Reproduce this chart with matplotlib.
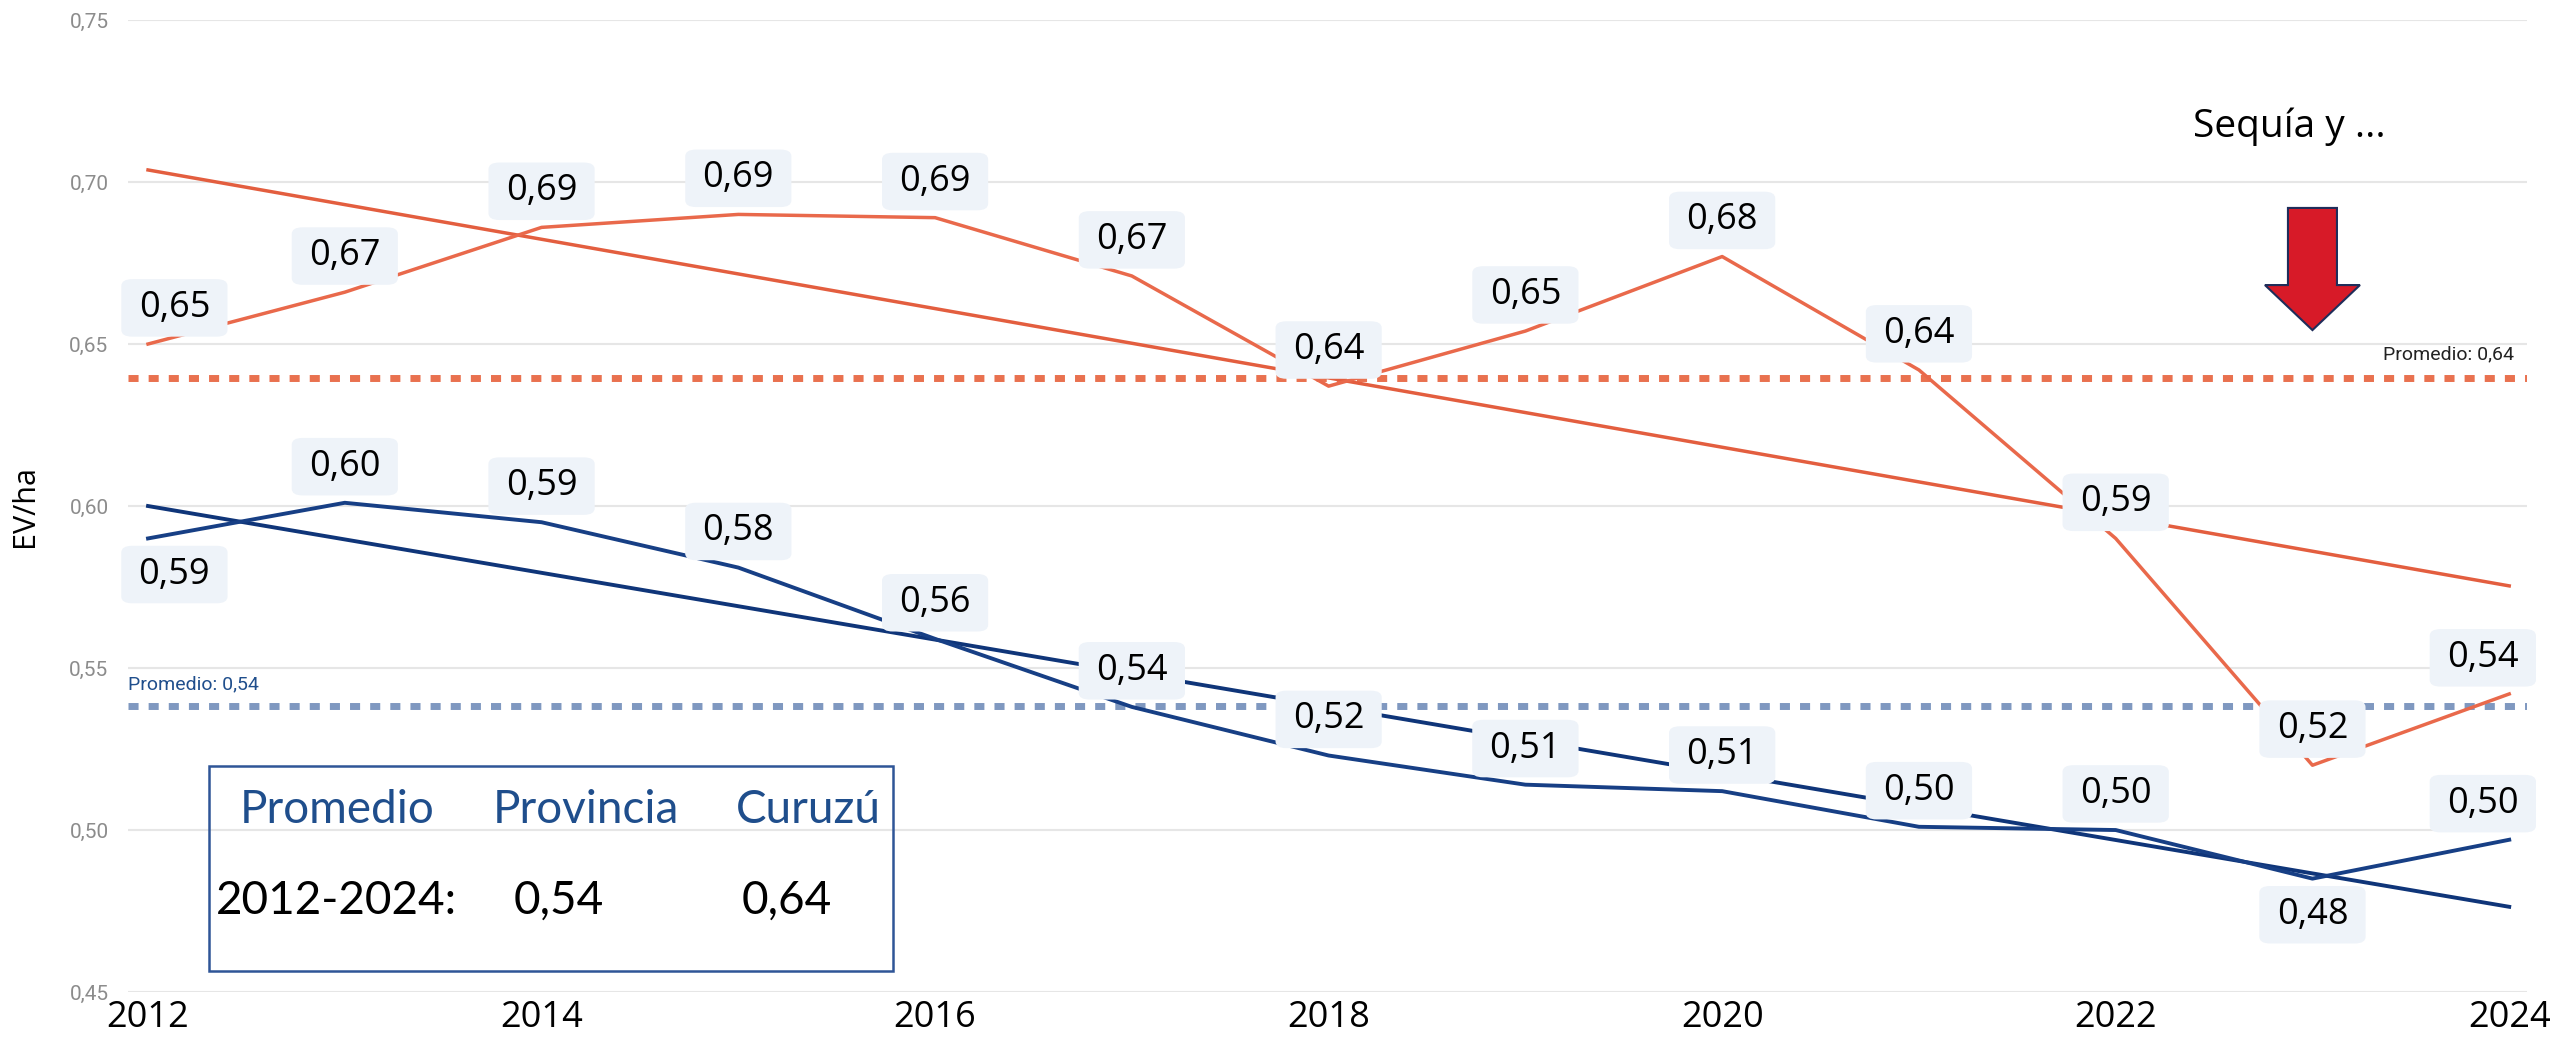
import numpy as np
import matplotlib.pyplot as plt
from matplotlib.patches import FancyArrow, Rectangle

# datos (EV/ha por año)
years = np.arange(2012, 2025)
curuzu = [0.650, 0.666, 0.686, 0.690, 0.689, 0.671, 0.637, 0.654, 0.677, 0.642, 0.590, 0.520, 0.542]
provincia = [0.590, 0.601, 0.595, 0.581, 0.559, 0.538, 0.523, 0.514, 0.512, 0.501, 0.500, 0.485, 0.497]
yticks = [0.45, 0.50, 0.55, 0.60, 0.65, 0.70, 0.75]
xticks = [2012, 2014, 2016, 2018, 2020, 2022, 2024]

# lado de la etiqueta (1 arriba, -1 abajo)
lado_prov = [-1, 1, 1, 1, 1, 1, 1, 1, 1, 1, 1, -1, 1]

naranja = '#e9694b'
naranja_tend = '#e35e3f'
azul = '#173f85'
azul_tend = '#0f3579'
azul_prom = '#7f98c0'
naranja_prom = '#e9714f'
caja = '#eef3f9'

fig = plt.figure(figsize=(25.54, 10.48), dpi=100)
ax = fig.add_axes([0.0501, 0.0534, 0.9393, 0.9275])

curuzu = np.array(curuzu)
provincia = np.array(provincia)
prom_c = curuzu.mean()
prom_p = provincia.mean()

# líneas de tendencia
tc = np.polyval(np.polyfit(years, curuzu, 1), years)
tp = np.polyval(np.polyfit(years, provincia, 1), years)

ax.axhline(prom_c, color=naranja_prom, lw=5, ls=(0, (1.45, 1.45)), zorder=2)
ax.axhline(prom_p, color=azul_prom, lw=5, ls=(0, (1.45, 1.45)), zorder=2)

ax.plot(years, tc, color=naranja_tend, lw=2.5, zorder=3)
ax.plot(years, curuzu, color=naranja, lw=2.5, zorder=3)
ax.plot(years, tp, color=azul_tend, lw=2.8, zorder=3)
ax.plot(years, provincia, color=azul, lw=2.8, zorder=3)

def etiqueta(x, y, lado, i):
    dx = 0
    if i == 0:
        dx = 19
    elif i == len(years) - 1:
        dx = -19
    ax.annotate(f'{y:.2f}'.replace('.', ','), (x, y), xytext=(dx, 26 * lado),
                textcoords='offset points', ha='center', va='center',
                fontsize=26, family=['Open Sans', 'DejaVu Sans'], color='black',
                bbox=dict(boxstyle='round,pad=0.48,rounding_size=0.3', fc=caja, ec='none',
                          mutation_aspect=0.62),
                zorder=5)

for i, (x, y) in enumerate(zip(years, curuzu)):
    etiqueta(x, y, 1, i)
for i, (x, y) in enumerate(zip(years, provincia)):
    etiqueta(x, y, lado_prov[i], i)

# textos de promedio
ax.annotate(f'Promedio: {prom_c:.2f}'.replace('.', ','), (1.0, prom_c),
            xycoords=('axes fraction', 'data'), xytext=(-9, 17), textcoords='offset points',
            ha='right', va='center', fontsize=14, family='Roboto', color='#222222')
ax.annotate(f'Promedio: {prom_p:.2f}'.replace('.', ','), (0.0, prom_p),
            xycoords=('axes fraction', 'data'), xytext=(0, 16), textcoords='offset points',
            ha='left', va='center', fontsize=14, family='Roboto', color='#1f4e8c')

# flecha de sequía
ax.add_patch(FancyArrow(2023.0, 0.692, 0, -0.0377, width=0.249, head_width=0.483,
                        head_length=0.0139, length_includes_head=True,
                        fc='#d71a28', ec='#1f2d5a', lw=1.5, zorder=4))
ax.text(0.9008, 0.8899, 'Sequía y ...', transform=ax.transAxes, ha='center', va='center',
        fontsize=28, family=['Open Sans', 'DejaVu Sans'], color='black')

# cuadro de promedios
ax.add_patch(Rectangle((0.0336, 0.0217), 0.2852, 0.2112, transform=ax.transAxes,
                       fill=False, ec='#2f5597', lw=1.8, zorder=4))
leg = dict(transform=ax.transAxes, ha='center', va='center', fontsize=33,
           family=['Lato', 'DejaVu Sans'])
ax.text(0.0871, 0.1872, 'Promedio', color='#1f4e8c', **leg)
ax.text(0.1909, 0.1872, 'Provincia', color='#1f4e8c', **leg)
ax.text(0.2835, 0.1872, 'Curuzú', color='#1f4e8c', **leg)
ax.text(0.0867, 0.0936, '2012-2024:', color='black', **leg)
ax.text(0.1797, 0.0936, f'{prom_p:.2f}'.replace('.', ','), color='black', **leg)
ax.text(0.2747, 0.0936, f'{prom_c:.2f}'.replace('.', ','), color='black', **leg)

# ejes
ax.set_xlim(2011.898, 2024.09)
ax.set_ylim(0.45, 0.75)
ax.set_yticks(yticks)
ax.set_yticklabels([f'{v:.2f}'.replace('.', ',') for v in yticks],
                   fontsize=15, family='Roboto', color='#8c8c8c')
ax.set_xticks(xticks)
ax.set_xticklabels([str(v) for v in xticks], fontsize=26,
                   family=['Open Sans', 'DejaVu Sans'], color='black')
ax.tick_params(axis='y', length=0, pad=14)
ax.tick_params(axis='x', length=0, pad=6)
ax.grid(axis='y', color='#e6e6e6', lw=1.5, zorder=0)
ax.set_axisbelow(True)
for s in ax.spines.values():
    s.set_visible(False)
ax.set_ylabel('EV/ha', fontsize=22, family=['Open Sans', 'DejaVu Sans'])
ax.yaxis.set_label_coords(-0.0367, 0.5)

fig.savefig('out.png', dpi=100)
